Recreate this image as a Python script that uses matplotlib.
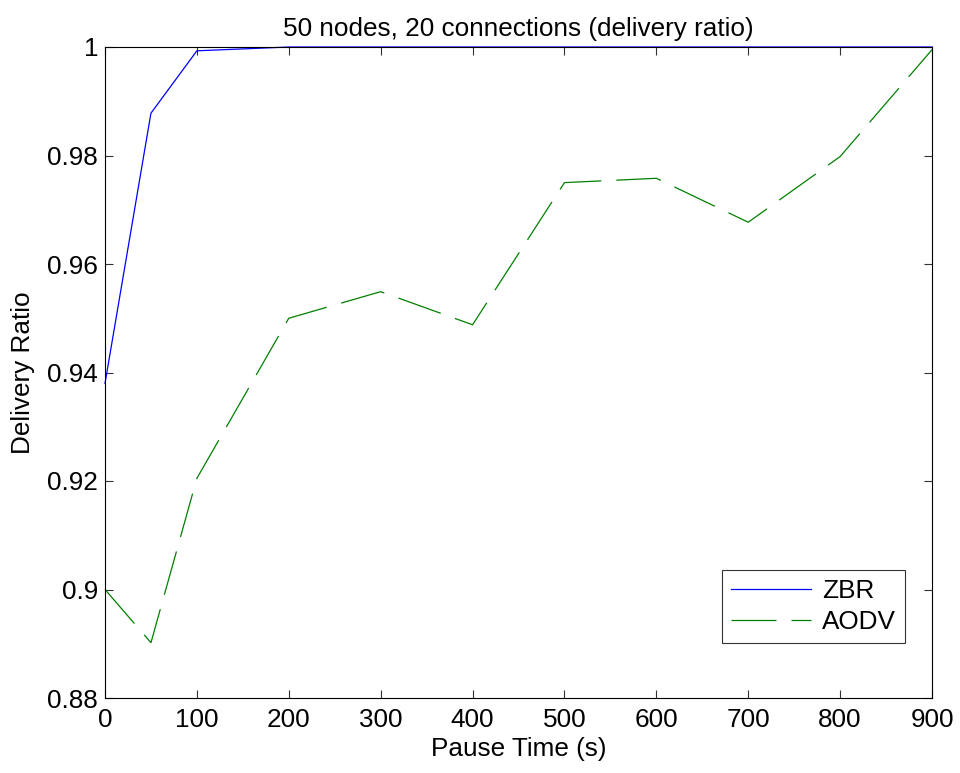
import matplotlib
matplotlib.use("Agg")
import matplotlib.pyplot as plt

plt.rcParams['font.family'] = ['Liberation Sans', 'DejaVu Sans']
plt.rcParams['lines.scale_dashes'] = False

pause_time = [0, 50, 100, 200, 300, 400, 500, 600, 700, 800, 900]
zbr = [0.938, 0.9878, 0.9993, 1.0, 1.0, 1.0, 1.0, 1.0, 1.0, 1.0, 1.0]
aodv = [0.900, 0.8902, 0.9205, 0.950, 0.9549, 0.9488, 0.9750, 0.9758, 0.9677, 0.9798, 0.9995]
xticks = [0, 100, 200, 300, 400, 500, 600, 700, 800, 900]
yticks = [0.88, 0.90, 0.92, 0.94, 0.96, 0.98, 1.0]
ytick_labels = ['0.88', '0.9', '0.92', '0.94', '0.96', '0.98', '1']

fs = 18.8
fig = plt.figure(figsize=(9.6, 7.73), dpi=100)
ax = fig.add_axes([105/960, 1-698/773, (932-105)/960, (698-47)/773])

ax.plot(pause_time, zbr, color=(0, 0, 1), lw=0.9, label='ZBR', clip_on=False)
ax.plot(pause_time, aodv, color=(0, 0.5, 0), lw=0.9, label='AODV',
        dashes=(32.4, 10.8), clip_on=False)

ax.set_xlim(0, 900)
ax.set_ylim(0.88, 1.0)
ax.set_xticks(xticks)
ax.set_xticklabels([str(t) for t in xticks])
ax.set_yticks(yticks)
ax.set_yticklabels(ytick_labels)
ax.tick_params(direction='in', length=6, width=0.8, top=True, right=True,
               labelsize=fs, color='#333333')
ax.tick_params(axis='x', pad=7)
ax.tick_params(axis='y', pad=5)
for s in ax.spines.values():
    s.set_linewidth(0.8)

ax.set_xlabel('Pause Time (s)', fontsize=fs, labelpad=4)
ax.set_ylabel('Delivery Ratio', fontsize=fs, labelpad=9)
ax.set_title('50 nodes, 20 connections (delivery ratio)', fontsize=fs, pad=8)

leg = ax.legend(loc='upper left', bbox_to_anchor=(722/960, 1-570/773),
                bbox_transform=fig.transFigure, borderaxespad=0,
                fancybox=False, frameon=True, fontsize=fs,
                handlelength=3.05, handletextpad=0.42, labelspacing=0.25,
                borderpad=0.36)
leg.get_frame().set_edgecolor('black')
leg.get_frame().set_linewidth(0.8)

fig.savefig('out.png', dpi=100)
